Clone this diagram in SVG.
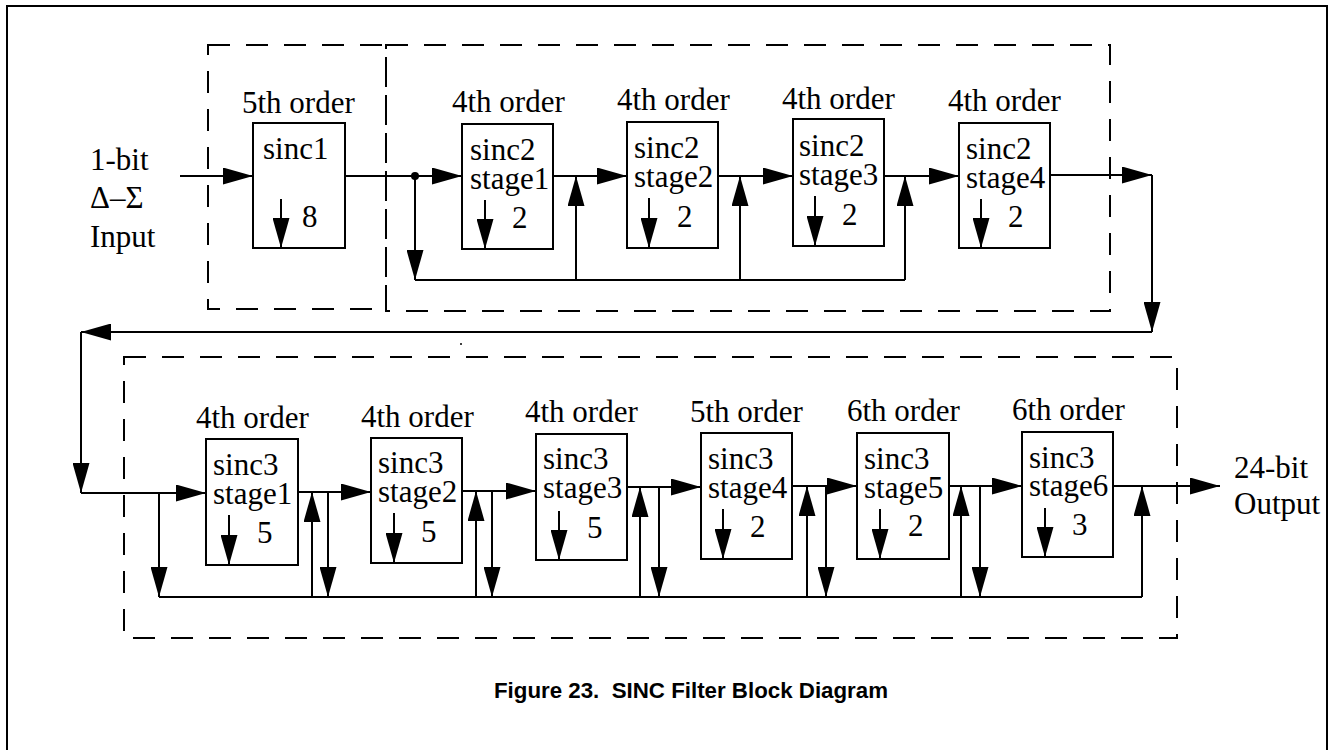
<svg xmlns="http://www.w3.org/2000/svg" width="1332" height="750" viewBox="0 0 1332 750">
<style>
.bg{fill:#fff}
.frame{fill:none;stroke:#000;stroke-width:2}
.dash{fill:none;stroke:#000;stroke-width:2;stroke-dasharray:22 16}
.box{fill:#fff;stroke:#000;stroke-width:2}
.t{font-family:"Liberation Serif","Times New Roman",serif;font-size:31px;fill:#000}
.cap{font-family:"Liberation Sans",Arial,sans-serif;font-size:22px;font-weight:bold;fill:#000}
.w{fill:none;stroke:#000;stroke-width:2}
.a{fill:none;stroke:#000;stroke-width:2;marker-end:url(#ah)}
</style>
<defs>
<marker id="ah" viewBox="0 0 30 17" refX="30" refY="8.5" markerWidth="30" markerHeight="17" markerUnits="userSpaceOnUse" orient="auto"><path d="M0,0 L30,8.5 L0,17 z" fill="#000"/></marker>
</defs>
<rect class="bg" x="0" y="0" width="1332" height="750"/>
<rect class="frame" x="7" y="6" width="1320" height="770"/>

<g id="groups">
<rect class="dash" x="208" y="45" width="178" height="264"/>
<rect class="dash" x="386" y="45" width="724" height="266"/>
<rect class="dash" x="124" y="357" width="1053" height="281"/>
</g>

<g id="connectors">
<line class="a" x1="180" y1="176" x2="253" y2="176"/>
<line class="a" x1="345" y1="176" x2="462" y2="176"/>
<circle cx="415" cy="176" r="4" fill="#000"/>
<line class="a" x1="415" y1="176" x2="415" y2="280"/>
<line class="w" x1="415" y1="280" x2="905" y2="280"/>
<line class="a" x1="576" y1="280" x2="576" y2="176"/>
<line class="a" x1="740" y1="280" x2="740" y2="176"/>
<line class="a" x1="905" y1="280" x2="905" y2="176"/>
<line class="a" x1="553" y1="176" x2="627" y2="176"/>
<line class="a" x1="718" y1="176" x2="793" y2="176"/>
<line class="a" x1="884" y1="176" x2="959" y2="176"/>
<line class="a" x1="1050" y1="175" x2="1152" y2="175"/>
<line class="a" x1="1152" y1="175" x2="1152" y2="332"/>
<line class="a" x1="1152" y1="332" x2="81" y2="332"/>
<line class="a" x1="81" y1="332" x2="81" y2="493"/>
<line class="a" x1="81" y1="493" x2="206" y2="493"/>
<line class="a" x1="159" y1="493" x2="159" y2="597"/>
<line class="w" x1="159" y1="597" x2="1142" y2="597"/>
<line class="a" x1="298" y1="492" x2="371" y2="492"/>
<line class="a" x1="312" y1="597" x2="312" y2="492"/>
<line class="a" x1="328" y1="492" x2="328" y2="597"/>
<line class="a" x1="462" y1="491" x2="536" y2="491"/>
<line class="a" x1="476" y1="597" x2="476" y2="491"/>
<line class="a" x1="492" y1="491" x2="492" y2="597"/>
<line class="a" x1="627" y1="487" x2="701" y2="487"/>
<line class="a" x1="640" y1="597" x2="640" y2="487"/>
<line class="a" x1="659" y1="487" x2="659" y2="597"/>
<line class="a" x1="792" y1="486" x2="857" y2="486"/>
<line class="a" x1="807" y1="597" x2="807" y2="486"/>
<line class="a" x1="826" y1="486" x2="826" y2="597"/>
<line class="a" x1="949" y1="486" x2="1022" y2="486"/>
<line class="a" x1="961" y1="597" x2="961" y2="486"/>
<line class="a" x1="980" y1="486" x2="980" y2="597"/>
<line class="a" x1="1113" y1="486" x2="1220" y2="486"/>
<line class="a" x1="1142" y1="597" x2="1142" y2="486"/>
<circle cx="461" cy="344" r="1" fill="#000"/>
</g>

<g id="input">
<text class="t" x="90" y="170">1-bit</text>
<text class="t" x="90" y="208">Δ–Σ</text>
<text class="t" x="90" y="247">Input</text>
</g>

<g id="sinc1">
<text class="t" x="242" y="113">5th order</text>
<rect class="box" x="253" y="123" width="92" height="125"/>
<text class="t" x="263" y="159">sinc1</text>
<line class="a" x1="281" y1="199" x2="281" y2="248"/>
<text class="t" x="302" y="227">8</text>
</g>

<g id="sinc2-stage1">
<text class="t" x="452" y="112">4th order</text>
<rect class="box" x="462" y="124" width="91" height="125"/>
<text class="t" x="470" y="160">sinc2</text>
<text class="t" x="470" y="189">stage1</text>
<line class="a" x1="485" y1="200" x2="485" y2="249"/>
<text class="t" x="512" y="228">2</text>
</g>

<g id="sinc2-stage2">
<text class="t" x="617" y="110">4th order</text>
<rect class="box" x="627" y="122" width="91" height="126"/>
<text class="t" x="634" y="158">sinc2</text>
<text class="t" x="634" y="187">stage2</text>
<line class="a" x1="649" y1="198" x2="649" y2="248"/>
<text class="t" x="677" y="227">2</text>
</g>

<g id="sinc2-stage3">
<text class="t" x="782" y="109">4th order</text>
<rect class="box" x="793" y="119" width="91" height="127"/>
<text class="t" x="799" y="156">sinc2</text>
<text class="t" x="799" y="185">stage3</text>
<line class="a" x1="815" y1="196" x2="815" y2="246"/>
<text class="t" x="842" y="225">2</text>
</g>

<g id="sinc2-stage4">
<text class="t" x="948" y="111">4th order</text>
<rect class="box" x="959" y="123" width="91" height="125"/>
<text class="t" x="966" y="159">sinc2</text>
<text class="t" x="966" y="188">stage4</text>
<line class="a" x1="981" y1="199" x2="981" y2="248"/>
<text class="t" x="1008" y="227">2</text>
</g>

<g id="sinc3-stage1">
<text class="t" x="196" y="428">4th order</text>
<rect class="box" x="206" y="439" width="92" height="126"/>
<text class="t" x="213" y="475">sinc3</text>
<text class="t" x="213" y="504">stage1</text>
<line class="a" x1="229" y1="515" x2="229" y2="565"/>
<text class="t" x="257" y="543">5</text>
</g>

<g id="sinc3-stage2">
<text class="t" x="361" y="427">4th order</text>
<rect class="box" x="371" y="438" width="91" height="125"/>
<text class="t" x="378" y="473">sinc3</text>
<text class="t" x="378" y="502">stage2</text>
<line class="a" x1="394" y1="513" x2="394" y2="563"/>
<text class="t" x="421" y="542">5</text>
</g>

<g id="sinc3-stage3">
<text class="t" x="525" y="422">4th order</text>
<rect class="box" x="536" y="434" width="91" height="126"/>
<text class="t" x="543" y="469">sinc3</text>
<text class="t" x="543" y="498">stage3</text>
<line class="a" x1="559" y1="511" x2="559" y2="560"/>
<text class="t" x="587" y="538">5</text>
</g>

<g id="sinc3-stage4">
<text class="t" x="690" y="422">5th order</text>
<rect class="box" x="701" y="433" width="91" height="126"/>
<text class="t" x="708" y="469">sinc3</text>
<text class="t" x="708" y="498">stage4</text>
<line class="a" x1="723" y1="509" x2="723" y2="559"/>
<text class="t" x="750" y="537">2</text>
</g>

<g id="sinc3-stage5">
<text class="t" x="847" y="421">6th order</text>
<rect class="box" x="857" y="433" width="92" height="126"/>
<text class="t" x="864" y="469">sinc3</text>
<text class="t" x="864" y="498">stage5</text>
<line class="a" x1="880" y1="509" x2="880" y2="559"/>
<text class="t" x="908" y="536">2</text>
</g>

<g id="sinc3-stage6">
<text class="t" x="1012" y="420">6th order</text>
<rect class="box" x="1022" y="432" width="91" height="125"/>
<text class="t" x="1029" y="468">sinc3</text>
<text class="t" x="1029" y="496">stage6</text>
<line class="a" x1="1045" y1="508" x2="1045" y2="557"/>
<text class="t" x="1072" y="535">3</text>
</g>

<g id="output">
<text class="t" x="1234" y="478">24-bit</text>
<text class="t" x="1234" y="514">Output</text>
</g>

<text class="cap" x="494" y="698" textLength="394" lengthAdjust="spacingAndGlyphs" xml:space="preserve">Figure 23.  SINC Filter Block Diagram</text>
</svg>
